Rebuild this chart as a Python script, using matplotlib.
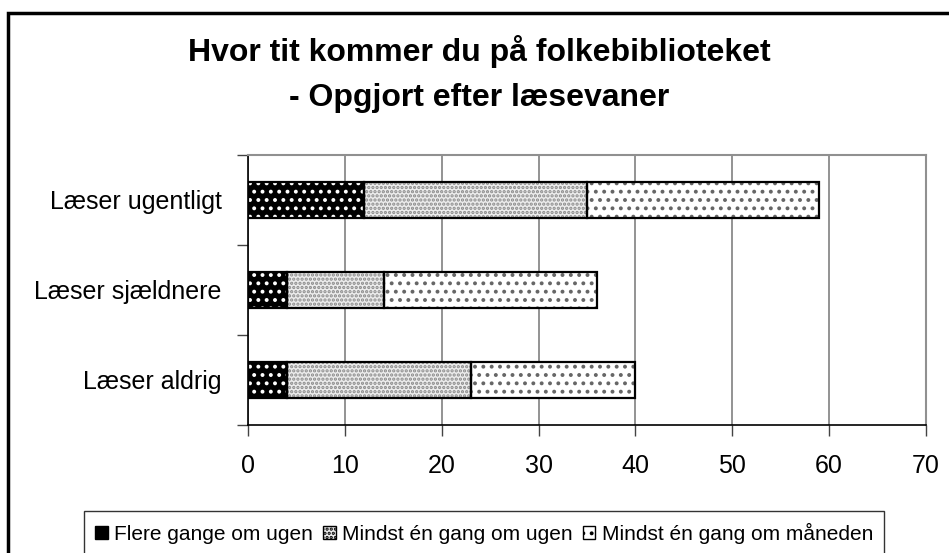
import matplotlib
matplotlib.use("Agg")
import matplotlib.pyplot as plt
from matplotlib.patches import Rectangle
import numpy as np

plt.rcParams["font.family"] = ["Liberation Sans", "DejaVu Sans"]
plt.rcParams["hatch.linewidth"] = 1.6

# Data
categories = ["Læser ugentligt", "Læser sjældnere", "Læser aldrig"]
series_names = ["Flere gange om ugen", "Mindst én gang om ugen", "Mindst én gang om måneden"]
flere_gange = [12, 4, 4]
mindst_uge = [23, 10, 19]
mindst_maaned = [24, 22, 17]
x_ticks = [0, 10, 20, 30, 40, 50, 60, 70]

# Styles: face colour, hatch, hatch colour
styles = [
    ("black", "..", "white"),
    ("#ececec", "....", "#8a8a8a"),
    ("white", "..", "#666666"),
]

fig = plt.figure(figsize=(9.49, 5.53), dpi=100)
ax = fig.add_axes([248 / 949, 1 - 425 / 553, (926 - 248) / 949, (425 - 155) / 553])

y = np.arange(len(categories))[::-1]
left = np.zeros(len(categories))
handles = []
for name, vals, (fc, hatch, hc) in zip(series_names, [flere_gange, mindst_uge, mindst_maaned], styles):
    ax.barh(y, vals, left=left, height=0.41, color=fc, edgecolor=fc, linewidth=0, zorder=3)
    ax.barh(y, vals, left=left, height=0.41, fill=False, hatch=hatch, edgecolor=hc, linewidth=0, zorder=4)
    ax.barh(y, vals, left=left, height=0.41, fill=False, edgecolor="black", linewidth=1.6, zorder=5)
    handles.append(Rectangle((0, 0), 1, 1, facecolor=fc, hatch=hatch, edgecolor="black", linewidth=1.0))
    left += vals

ax.set_xlim(0, 70)
ax.set_ylim(-0.5, 2.5)
ax.set_xticks(x_ticks)
ax.set_xticklabels([str(t) for t in x_ticks], fontsize=18)
ax.tick_params(axis="x", length=8, width=1, pad=13, color="#444444")
ax.xaxis.grid(True, color="#808080", linewidth=1.2, zorder=0)

ax.set_yticks(y)
ax.set_yticklabels(categories, fontsize=18)
ax.tick_params(axis="y", which="major", length=0, pad=19)
ax.set_yticks([-0.5, 0.5, 1.5, 2.5], minor=True)
ax.tick_params(axis="y", which="minor", length=8, width=1, color="#444444")

for s in ["top", "right"]:
    ax.spines[s].set_color("#909090")
    ax.spines[s].set_linewidth(1.5)
for s in ["left", "bottom"]:
    ax.spines[s].set_color("black")
    ax.spines[s].set_linewidth(1.2)

fig.text(479 / 949, 1 - 52 / 553, "Hvor tit kommer du på folkebiblioteket",
         ha="center", va="center", fontsize=23, fontweight="bold")
fig.text(479 / 949, 1 - 98 / 553, "- Opgjort efter læsevaner",
         ha="center", va="center", fontsize=23, fontweight="bold")

fig.legend(handles, series_names, loc="lower center", bbox_to_anchor=(484 / 949, -0.004),
           ncol=3, fontsize=15, frameon=True, fancybox=False, edgecolor="black",
           handlelength=0.6, handleheight=0.6, handletextpad=0.3, columnspacing=0.5,
           borderpad=0.55, borderaxespad=0)

# border round the whole chart
fig.patches.append(Rectangle((7.5 / 949, -0.1), 1.2, 1.1 - 13.5 / 553, transform=fig.transFigure,
                             fill=False, edgecolor="black", linewidth=2.5))

fig.savefig("out.png", dpi=100)
